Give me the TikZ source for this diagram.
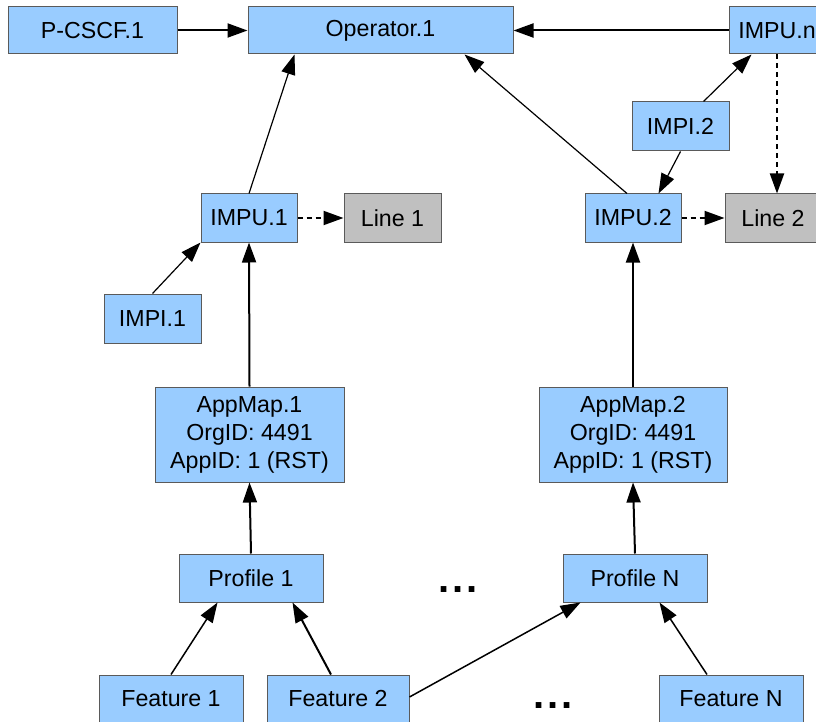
\documentclass[tikz,border=0pt]{standalone}
\usepackage{fontspec}
\setmainfont{Liberation Sans}
\usetikzlibrary{arrows.meta}
\definecolor{boxblue}{RGB}{153,204,255}
\definecolor{boxgray}{RGB}{192,192,192}
\definecolor{edgegray}{RGB}{90,90,90}
\begin{document}
\begin{tikzpicture}[x=1pt,y=1pt,
  every node/.style={font=\fontsize{23.2}{28}\selectfont},
  bluebox/.style={draw=edgegray,line width=1pt,fill=boxblue,inner sep=0pt,align=center},
  graybox/.style={draw=edgegray,line width=1pt,fill=boxgray,inner sep=0pt,align=center},
  dotsnode/.style={font=\fontsize{40}{40}\selectfont\bfseries,inner sep=0pt},
  tip/.style={-{Triangle[length=20pt,width=14pt]}},
  thick arrow/.style={tip,line width=2pt},
  thin arrow/.style={tip,line width=1.2pt},
  dotted arrow/.style={tip,line width=2pt,dash pattern=on 5pt off 4pt}]
\useasboundingbox (0,0) rectangle (816,-722);
\clip (0,0) rectangle (816,-722);
\node[bluebox,minimum width=169pt,minimum height=47pt] (pcscf) at (92.5,-30.5) {P-CSCF.1};
\node[bluebox,minimum width=265pt,minimum height=47pt] (op) at (380.5,-30.5) {Operator.1};
\node[bluebox,minimum width=96pt,minimum height=47pt] (impun) at (777,-30.5) {IMPU.n};
\node[bluebox,minimum width=97pt,minimum height=49pt] (impi2) at (680.5,-126.5) {IMPI.2};
\node[bluebox,minimum width=96pt,minimum height=48pt] (impu2) at (633,-218) {IMPU.2};
\node[graybox,minimum width=96pt,minimum height=48pt] (line2) at (773,-218) {Line 2};
\node[bluebox,minimum width=96pt,minimum height=48pt] (impu1) at (249,-218) {IMPU.1};
\node[graybox,minimum width=97pt,minimum height=48pt] (line1) at (392.5,-218) {Line 1};
\node[bluebox,minimum width=97pt,minimum height=49pt] (impi1) at (152.5,-318.5) {IMPI.1};
\node[bluebox,minimum width=189pt,minimum height=95pt] (app1) at (249.5,-434.5) {AppMap.1\\OrgID: 4491\\AppID: 1 (RST)};
\node[bluebox,minimum width=188pt,minimum height=95pt] (app2) at (633,-434.5) {AppMap.2\\OrgID: 4491\\AppID: 1 (RST)};
\node[bluebox,minimum width=144pt,minimum height=48pt] (prof1) at (251,-578) {Profile 1};
\node[bluebox,minimum width=144pt,minimum height=48pt] (profN) at (635,-578) {Profile N};
\node[bluebox,minimum width=144pt,minimum height=48pt] (feat1) at (171,-699) {Feature 1};
\node[bluebox,minimum width=142pt,minimum height=48pt] (feat2) at (338,-699) {Feature 2};
\node[bluebox,minimum width=144pt,minimum height=48pt] (featN) at (731,-699) {Feature N};
\node[dotsnode,anchor=base] (dots1) at (458,-592) {.\kern3pt.\kern3pt.};
\node[dotsnode,anchor=base] (dots2) at (553,-708) {.\kern3pt.\kern3pt.};
% connectors
\draw[thick arrow] (pcscf.east) -- (op.west);
\draw[thick arrow] (impun.west) -- (op.east);
\draw[thin arrow] (impu1.north) -- ([xshift=47pt]op.south west);
\draw[thin arrow] ([xshift=-6pt]impu2.north) -- ([xshift=217pt]op.south west);
\draw[thin arrow] ([xshift=72pt]impi2.north west) -- ([xshift=23pt]impun.south west);
\draw[thin arrow] (impi2.south) -- ([xshift=-23pt]impu2.north east);
\draw[dotted arrow] (impun.south) -- (impun.south |- line2.north);
\draw[dotted arrow] (impu2.east) -- (line2.west);
\draw[dotted arrow] (impu1.east) -- (line1.west);
\draw[thin arrow] (impi1.north) -- (impu1.south west);
\draw[thick arrow] (app1.north) -- (impu1.south);
\draw[thick arrow] (app2.north) -- (impu2.south);
\draw[thick arrow] (prof1.north) -- (app1.south);
\draw[thick arrow] (profN.north) -- (app2.south);
\draw[thin arrow,line width=1.5pt] (feat1.north) -- ([xshift=39pt]prof1.south west);
\draw[thick arrow] ([xshift=-7pt]feat2.north) -- ([xshift=-31pt]prof1.south east);
\draw[thin arrow,line width=1.5pt] ([yshift=2pt]feat2.east) -- ([xshift=18pt]profN.south west);
\draw[thin arrow,line width=1.5pt] ([xshift=-24pt]featN.north) -- ([xshift=97pt]profN.south west);
\end{tikzpicture}
\end{document}
